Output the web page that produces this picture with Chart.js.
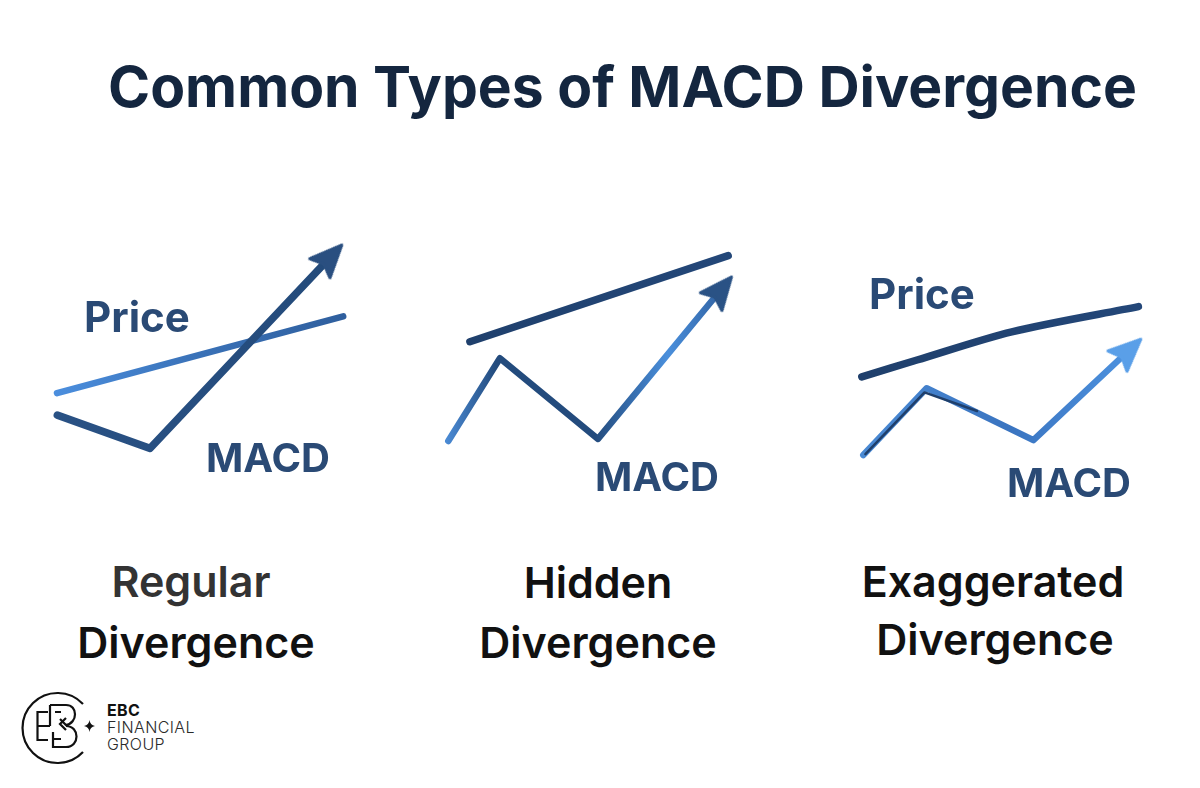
<!DOCTYPE html>
<html>
<head>
<meta charset="utf-8">
<title>Common Types of MACD Divergence</title>
<script src="https://cdn.jsdelivr.net/npm/chart.js@4"></script>
<style>
  html, body { margin: 0; padding: 0; background: #fff; }
  #page { position: relative; width: 1200px; height: 788px; overflow: hidden; font-family: Inter, "Noto Sans", sans-serif; }
  #page div { position: absolute; white-space: nowrap; line-height: 1; }
  .panel { position: absolute; }
  .panel canvas { display: block; }
  .title { left: 108px; top: 58px; font-size: 57px; font-weight: 700; color: #14263f; }
  .tag { font-size: 40px; font-weight: 700; color: #2a4a75; }
  .tag.price { font-size: 42px; }
  .cat { font-size: 43px; font-weight: 600; transform: translateX(-50%); }
  .logo-text { left: 107px; font-size: 16px; letter-spacing: 0.4px; font-weight: 300; color: #2a2a2a; }
  svg { position: absolute; }
</style>
</head>
<body>
<div id="page">
  <div class="title">Common Types of MACD Divergence</div>

  <canvas id="chart1" class="panel" style="left:30px;top:230px"></canvas>
  <canvas id="chart2" class="panel" style="left:430px;top:240px"></canvas>
  <canvas id="chart3" class="panel" style="left:845px;top:270px"></canvas>

  <div class="tag price" style="left:84px;top:296px">Price</div>
  <div class="tag" style="left:206px;top:438px">MACD</div>
  <div class="tag" style="left:595px;top:457px">MACD</div>
  <div class="tag price" style="left:869px;top:273px">Price</div>
  <div class="tag" style="left:1007px;top:463px">MACD</div>

  <div class="cat" style="left:191px;top:560px;color:#333">Regular</div>
  <div class="cat" style="left:196px;top:621px;color:#111">Divergence</div>
  <div class="cat" style="left:598px;top:561px;color:#111">Hidden</div>
  <div class="cat" style="left:598px;top:621px;color:#111">Divergence</div>
  <div class="cat" style="left:993px;top:560px;color:#111">Exaggerated</div>
  <div class="cat" style="left:995px;top:618px;color:#111">Divergence</div>

  <!-- логотип -->
  <svg style="left:20px;top:690px" width="80" height="75" viewBox="0 0 80 75" fill="none" stroke="#111" stroke-width="2.2">
    <path d="M63 14 A 35 35 0 1 0 63 62"/>
    <path d="M28 22 H17.5 V50 H28 M17.5 36 H30 M30 15 V36 M30 15 H46 C58 15 58 33 46 35 L40 29 M46 28 L40 34 L46 40 M33 42 V57 H46 C60 57 60 36 46 36 M35 22 H41 M33 49 H41"/>
    <path d="M69.5 30 Q70 35 75 36 Q70 37 69.5 42 Q69 37 64 36 Q69 35 69.5 30 z" fill="#111" stroke="none"/>
  </svg>
  <div class="logo-text" style="top:702px;font-weight:700;color:#111">EBC</div>
  <div class="logo-text" style="top:719px">FINANCIAL</div>
  <div class="logo-text" style="top:736px">GROUP</div>
</div>

<script>
// Значения, единицы условные (1 единица = 3 px)
const regularPriceX = [9, 104.4];
const regularPriceY = [25.6, 51.2];
const regularMacdX = [9.1, 40, 98];
const regularMacdY = [18.3, 7.2, 68.7];

const hiddenPriceX = [13.3, 99.4];
const hiddenPriceY = [46.1, 74.8];
const hiddenMacdX = [6.1, 23.3, 56, 95];
const hiddenMacdY = [13, 40.6, 13.7, 61];

const exaggeratedPriceX = [5.6, 24, 55.6, 97.8];
const exaggeratedPriceY = [34.4, 40, 49.4, 57.8];
const exaggeratedMacdX = [6.1, 27.2, 62.8, 92.3];
const exaggeratedMacdY = [8.3, 30.6, 13.3, 41];
// тёмная полоса внутри MACD на левом участке
const exaggeratedShadeX = [6.8, 26.5, 44];
const exaggeratedShadeY = [8.6, 29.2, 23];

const UNIT = 3;

function toPoints(xs, ys) {
  return xs.map((x, i) => ({ x: x, y: ys[i] }));
}

// Наконечник: центр картинки совпадает с концом линии, острие выше
function makeArrowHead(color) {
  const c = document.createElement('canvas');
  c.width = 72;
  c.height = 72;
  const g = c.getContext('2d');
  g.fillStyle = color;
  g.strokeStyle = color;
  g.lineWidth = 3;
  g.lineJoin = 'round';
  g.beginPath();
  g.moveTo(36, 10);
  g.lineTo(50, 42);
  g.lineTo(36, 36);
  g.lineTo(22, 42);
  g.closePath();
  g.fill();
  g.stroke();
  return c;
}

function gradient(stops, fallback) {
  return (ctx) => {
    const area = ctx.chart.chartArea;
    if (!area) return fallback;
    const grad = ctx.chart.ctx.createLinearGradient(area.left, 0, area.right, 0);
    stops.forEach(s => grad.addColorStop(s[0], s[1]));
    return grad;
  };
}

function lineDataset(label, points, stops, width, tension) {
  return {
    label: label,
    data: points,
    borderColor: gradient(stops, stops[0][1]),
    borderWidth: width,
    borderCapStyle: 'round',
    borderJoinStyle: 'round',
    tension: tension || 0,
    pointRadius: 0,
    clip: false
  };
}

function arrowDataset(label, points, stops, width, headColor) {
  const ds = lineDataset(label, points, stops, width);
  const a = points[points.length - 2];
  const b = points[points.length - 1];
  const angle = Math.atan2(b.x - a.x, b.y - a.y) * 180 / Math.PI;
  ds.pointStyle = makeArrowHead(headColor);
  ds.pointRadius = (ctx) => ctx.dataIndex === points.length - 1 ? 30 : 0;
  ds.pointRotation = angle;
  return ds;
}

function drawPanel(id, xMax, yMax, datasets) {
  new Chart(document.getElementById(id).getContext('2d'), {
    type: 'line',
    data: { datasets: datasets },
    options: {
      responsive: false,
      animation: false,
      devicePixelRatio: 1,
      layout: { padding: 0, autoPadding: false },
      plugins: { legend: { display: false }, tooltip: { enabled: false } },
      scales: {
        x: { type: 'linear', display: false, min: 0, max: xMax },
        y: { type: 'linear', display: false, min: 0, max: yMax }
      }
    }
  });
}

function sizeCanvas(id, w, h) {
  const c = document.getElementById(id);
  c.width = w * UNIT;
  c.height = h * UNIT;
  c.style.width = (w * UNIT) + 'px';
  c.style.height = (h * UNIT) + 'px';
}

sizeCanvas('chart1', 110, 80);
sizeCanvas('chart2', 110, 80);
sizeCanvas('chart3', 110, 70);

// Первый набор рисуется поверх остальных
drawPanel('chart1', 110, 80, [
  arrowDataset('MACD', toPoints(regularMacdX, regularMacdY),
    [[0, '#2a5285'], [1, '#234a7a']], 7.5, '#2a4f80'),
  lineDataset('Price', toPoints(regularPriceX, regularPriceY),
    [[0.05, '#4c90e0'], [0.5, '#3a72b8'], [0.95, '#2f5f9e']], 6.5)
]);

drawPanel('chart2', 110, 80, [
  arrowDataset('MACD', toPoints(hiddenMacdX, hiddenMacdY),
    [[0.05, '#4a8ad4'], [0.2, '#234b7d'], [0.5, '#234b7d'], [0.72, '#4a8fdc'], [0.9, '#2f5f9e']], 6.5, '#2a5285'),
  lineDataset('Price', toPoints(hiddenPriceX, hiddenPriceY),
    [[0, '#1f3f6b'], [1, '#24487a']], 7.5)
]);

drawPanel('chart3', 110, 70, [
  lineDataset('MACD shade', toPoints(exaggeratedShadeX, exaggeratedShadeY),
    [[0, '#1f3f6b'], [0.4, '#1f3f6b'], [0.6, '#2f5a96']], 2.5),
  arrowDataset('MACD', toPoints(exaggeratedMacdX, exaggeratedMacdY),
    [[0.05, '#4a8ad4'], [0.5, '#3a74c0'], [0.9, '#4f95e2']], 6.5, '#5a9fe8'),
  lineDataset('Price', toPoints(exaggeratedPriceX, exaggeratedPriceY),
    [[0, '#1f3f6b'], [1, '#24487a']], 7.5, 0.3)
]);
</script>
</body>
</html>
